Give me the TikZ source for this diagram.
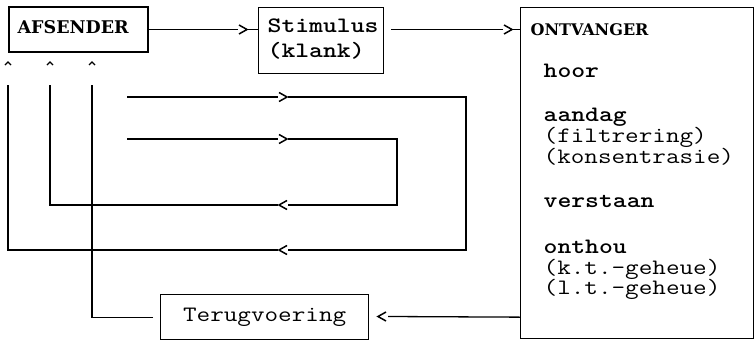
\documentclass[tikz,border=0pt]{standalone}
\usepackage{fontspec}
\newfontfamily\titlefam{DejaVu Serif}
\newcommand{\mymono}{\ttfamily\fontsize{22}{24}\selectfont}
\newcommand{\mytitle}{\titlefam\bfseries\fontsize{16}{18}\selectfont}
\newcommand{\mytitlebig}{\titlefam\bfseries\fontsize{17.5}{19}\selectfont}
\newcommand{\stretchtxt}[1]{\scalebox{1.2}[1]{#1}}
\tikzset{
  box/.style={draw, line width=1.3pt, inner sep=0pt},
  lbl/.style={anchor=base west, inner sep=0pt, font=\mymono},
  lblb/.style={anchor=base west, inner sep=0pt, font=\mymono\bfseries},
  chevR/.pic={\fill[white] (-5,-5) rectangle (5,5); \draw[line width=1.5pt] (-4,-4.5) -- (4,0) -- (-4,4.5);},
  chevL/.pic={\fill[white] (-5,-5) rectangle (5,5); \draw[line width=1.5pt] (4,-4.5) -- (-4,0) -- (4,4.5);},
  caret/.pic={\draw[line width=1.2pt] (-3,2) -- (0,-1) -- (3,2);}
}
\begin{document}
\begin{tikzpicture}[x=1pt,y=-1pt,line width=1.3pt]
\useasboundingbox (0,0) rectangle (755,340);
% boxes
\node[box, minimum width=139pt, minimum height=45pt] (afs) at (78.5,29.5) {};
\node[anchor=base west, inner sep=0pt, font=\mytitlebig] (afst) at (17,34) {AFSENDER};
\node[box, minimum width=125pt, minimum height=66pt, anchor=north west] (stim) at (258,7) {};
\node[lblb] (stim1) at (267,32) {\stretchtxt{Stimulus}};
\node[lblb] (stim2) at (267,57) {\stretchtxt{(klank)}};
\node[box, minimum width=233pt, minimum height=331pt, anchor=north west] (ont) at (520,7) {};
\node[anchor=base west, inner sep=0pt, font=\mytitle] (ont0) at (530,35) {ONTVANGER};
\node[lblb] (o1) at (543,77) {\stretchtxt{hoor}};
\node[lblb] (o2) at (543,121) {\stretchtxt{aandag}};
\node[lbl] (o3) at (543,142) {\stretchtxt{(filtrering)}};
\node[lbl] (o4) at (543,163) {\stretchtxt{(konsentrasie)}};
\node[lblb] (o5) at (543,207) {\stretchtxt{verstaan}};
\node[lblb] (o6) at (543,253) {\stretchtxt{onthou}};
\node[lbl] (o7) at (543,274) {\stretchtxt{(k.t.-geheue)}};
\node[lbl] (o8) at (543,294) {\stretchtxt{(l.t.-geheue)}};
\node[box, minimum width=208pt, minimum height=45pt, anchor=north west, font=\mymono] (terug) at (160,294) {\stretchtxt{Terugvoering}};
% free ends
\coordinate (outS) at (127,97);
\coordinate (inS) at (127,139);
\coordinate (outE) at (8,85);
\coordinate (inE) at (50,85);
\coordinate (fbE) at (92,85);
\coordinate (fbS) at (388,316.5);
% connectors
\draw (afs.east) -- (afs.east -| stim.west);
\draw[shorten <=7pt] (stim.east |- afs.east) -- (ont.west |- afs.east);
\draw (outS) -- (466,97) -- (466,250) -- (8,250) -- (outE);
\draw (inS) -- (397,139) -- (397,205) -- (50,205) -- (inE);
\draw (ont.west |- terug.east) -- (fbS);
\draw ([xshift=-7pt]terug.west) -| (fbE);
% arrow marks
\pic at (243,29.5) {chevR};
\pic at (508,29.5) {chevR};
\pic at (283,97) {chevR};
\pic at (283,139) {chevR};
\pic at (283,205) {chevL};
\pic at (283,250) {chevL};
\pic at (382,316.5) {chevL};
\pic at (8,63) {caret};
\pic at (50,63) {caret};
\pic at (92,63) {caret};
\end{tikzpicture}
\end{document}
